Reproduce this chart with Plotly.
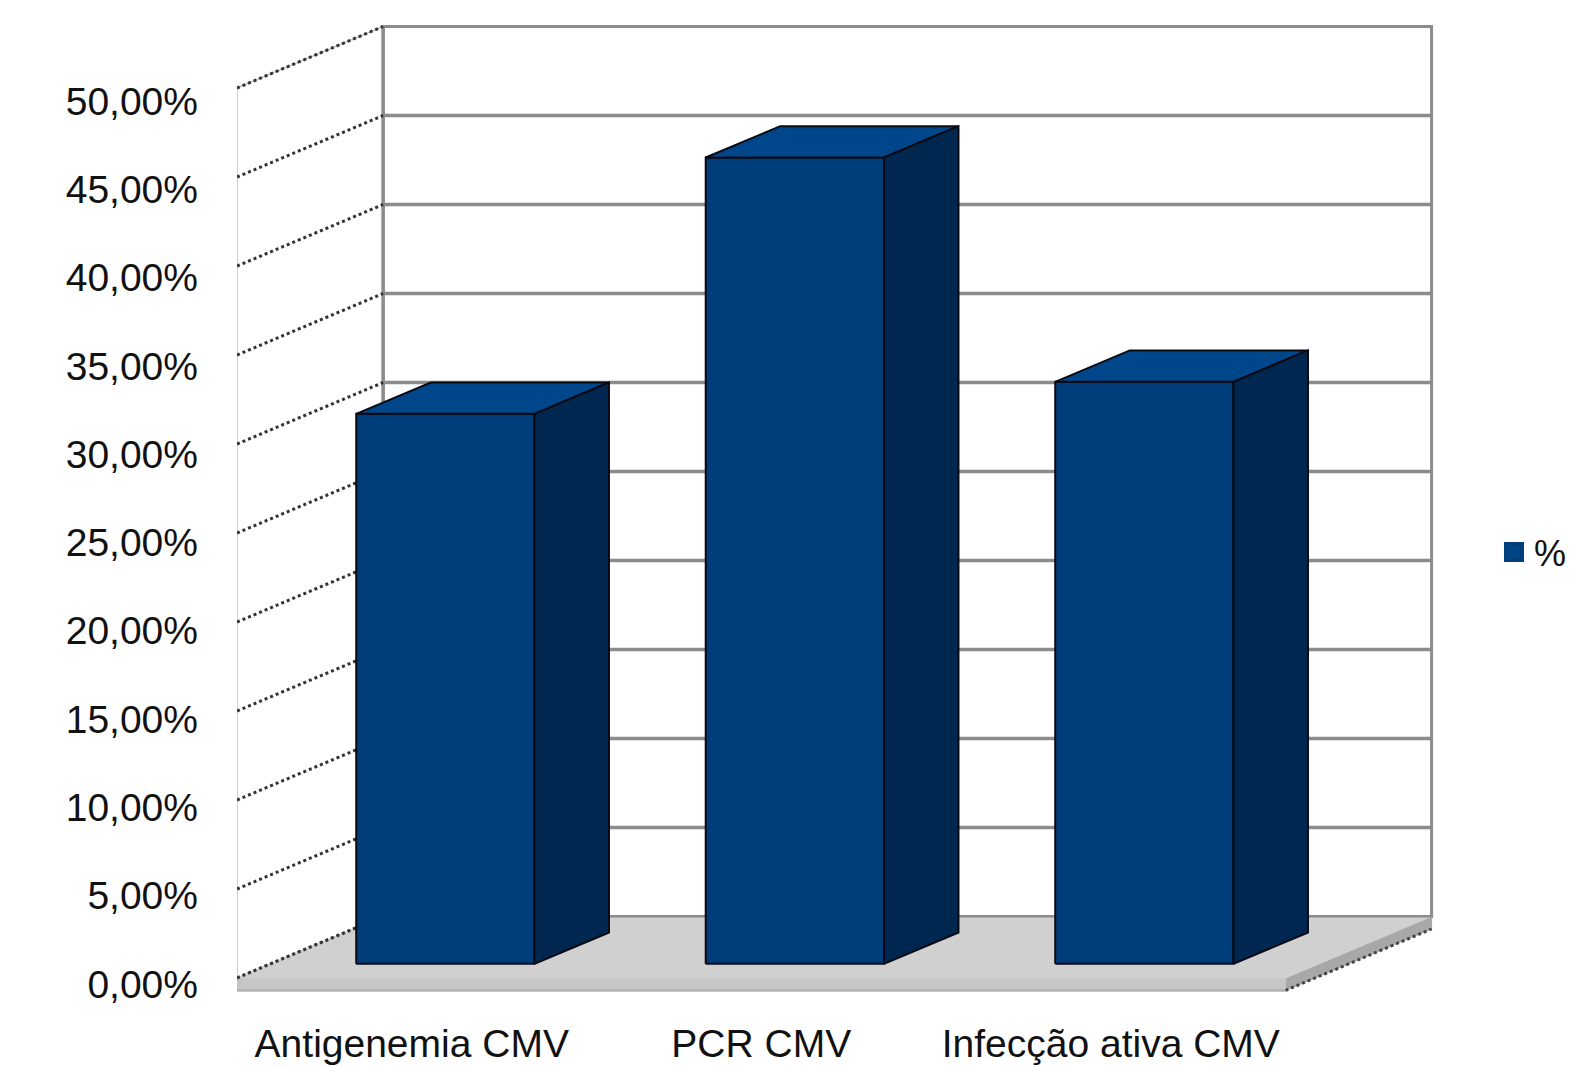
import plotly.graph_objects as go

# ---- data ----
categories = ["Antigenemia CMV", "PCR CMV", "Infecção ativa CMV"]
values = [30.9, 45.3, 32.7]          # percent
series_name = "%"
y_ticks = [0, 5, 10, 15, 20, 25, 30, 35, 40, 45, 50]
y_tick_labels = ["0,00%", "5,00%", "10,00%", "15,00%", "20,00%", "25,00%",
                 "30,00%", "35,00%", "40,00%", "45,00%", "50,00%"]

# ---- pseudo-3D projection (oblique) ----
DX = 0.418      # x shift (category units) for full depth
DY = 3.455      # y shift (percent units) for full depth
Y_MAX = 50
X_LO, X_HI = -0.5, len(categories) - 0.5
BAR_W = 0.51
D0, D1 = 0.23, 0.74
SLAB = 0.7


def P(c, v, d):
    return c + d * DX, v + d * DY


def poly(pts):
    xs, ys = zip(*[P(*p) for p in pts])
    return list(xs) + [xs[0]], list(ys) + [ys[0]]


fig = go.Figure()


def add_poly(pts, fill, line_color, line_width):
    xs, ys = poly(pts)
    fig.add_trace(go.Scatter(x=xs, y=ys, mode="lines", fill="toself",
                             fillcolor=fill,
                             line=dict(color=line_color, width=line_width),
                             hoverinfo="skip", showlegend=False))


def add_line(p1, p2, color, width, dash="solid"):
    a, b = P(*p1), P(*p2)
    fig.add_trace(go.Scatter(x=[a[0], b[0]], y=[a[1], b[1]], mode="lines",
                             line=dict(color=color, width=width, dash=dash),
                             hoverinfo="skip", showlegend=False))


GRID = "#8c8c8c"
# back wall
add_poly([(X_LO, 0, 1), (X_HI, 0, 1), (X_HI, Y_MAX, 1), (X_LO, Y_MAX, 1)],
         "white", GRID, 3)
for t in y_ticks[1:-1]:
    add_line((X_LO, t, 1), (X_HI, t, 1), GRID, 3.5)

# left wall
add_poly([(X_LO, 0, 0), (X_LO, 0, 1), (X_LO, Y_MAX, 1), (X_LO, Y_MAX, 0)],
         "white", "#a0a0a0", 1)
add_line((X_LO, 0, 1), (X_LO, Y_MAX, 1), GRID, 3.5)
for t in y_ticks:
    add_line((X_LO, t, 0), (X_LO, t, 1), "#333333", 3, "dot")

# floor slab
add_poly([(X_HI, 0, 0), (X_HI, 0, 1), (X_HI, -SLAB, 1), (X_HI, -SLAB, 0)],
         "#a8a8a8", "#a8a8a8", 1)
add_poly([(X_LO, 0, 0), (X_HI, 0, 0), (X_HI, -SLAB, 0), (X_LO, -SLAB, 0)],
         "#c6c6c6", "#c6c6c6", 1)
add_line((X_LO, -SLAB, 0), (X_HI, -SLAB, 0), "#b0b0b0", 2.5)
add_poly([(X_LO, 0, 0), (X_HI, 0, 0), (X_HI, 0, 1), (X_LO, 0, 1)],
         "#d0d0d0", "#d0d0d0", 1)
add_line((X_HI, -SLAB, 0), (X_HI, -SLAB, 1), "#444444", 3, "dot")
add_line((X_LO, 0, 0), (X_LO, 0, 1), "#333333", 3, "dot")
add_line((X_LO, 0, 1), (X_HI, 0, 1), GRID, 2)

# bars
FRONT, TOP, SIDE, EDGE = "#003d7b", "#00468b", "#00274f", "#0a0a14"
for c, v in zip(range(len(categories)), values):
    xl, xr = c - BAR_W / 2, c + BAR_W / 2
    add_poly([(xl, 0, D0), (xr, 0, D0), (xr, v, D0), (xl, v, D0)],
             FRONT, EDGE, 2)
    add_poly([(xl, v, D0), (xr, v, D0), (xr, v, D1), (xl, v, D1)],
             TOP, EDGE, 2)
    add_poly([(xr, 0, D0), (xr, 0, D1), (xr, v, D1), (xr, v, D0)],
             SIDE, EDGE, 2)

# legend entry
fig.add_trace(go.Scatter(x=[None], y=[None], mode="markers", name=series_name,
                         marker=dict(symbol="square", size=16, color="#004586",
                                     line=dict(color="#003f7c", width=4)),
                         showlegend=True))

FONT = "Liberation Sans, Arial, sans-serif"
L, R, T, B = 237, 1440, 20, 1000
W, H = 1574, 1066
PX_C = 349.5
PX_V = 17.8
front0 = 978
x_range = [X_LO, X_LO + (R - L) / PX_C]
y_range = [(front0 - B) / PX_V, (front0 - T) / PX_V]
lab0, lab50 = 984, 101
s2 = (lab0 - lab50) / 50
y2_range = [(lab0 - B) / s2, (lab0 - T) / s2]

fig.update_layout(
    width=W, height=H,
    margin=dict(l=L, r=W - R, t=T, b=H - B, autoexpand=False),
    paper_bgcolor="white", plot_bgcolor="white",
    font=dict(family=FONT, size=39, color="#111111"),
    xaxis=dict(range=x_range, tickvals=list(range(len(categories))),
               ticktext=categories, showgrid=False, zeroline=False,
               showline=False, ticks="", ticklabelstandoff=17,
               automargin=False, fixedrange=True),
    yaxis=dict(range=y_range, visible=False, automargin=False,
               fixedrange=True),
    yaxis2=dict(range=y2_range, overlaying="y", side="left", anchor="x",
                tickvals=y_ticks, ticktext=y_tick_labels, showgrid=False,
                zeroline=False, showline=False, ticks="",
                ticklabelstandoff=38, automargin=False, fixedrange=True),
    showlegend=True,
    legend=dict(xref="container", yref="container", x=1494 / W,
                y=1 - 552 / H, yanchor="middle", xanchor="left",
                font=dict(size=36, family=FONT, color="#111111"),
                bgcolor="rgba(0,0,0,0)", itemwidth=30),
)
# tie a hidden trace to y2 so the axis is drawn
fig.add_trace(go.Scatter(x=[None], y=[None], yaxis="y2", showlegend=False,
                         hoverinfo="skip"))

fig.write_html("out.html")
